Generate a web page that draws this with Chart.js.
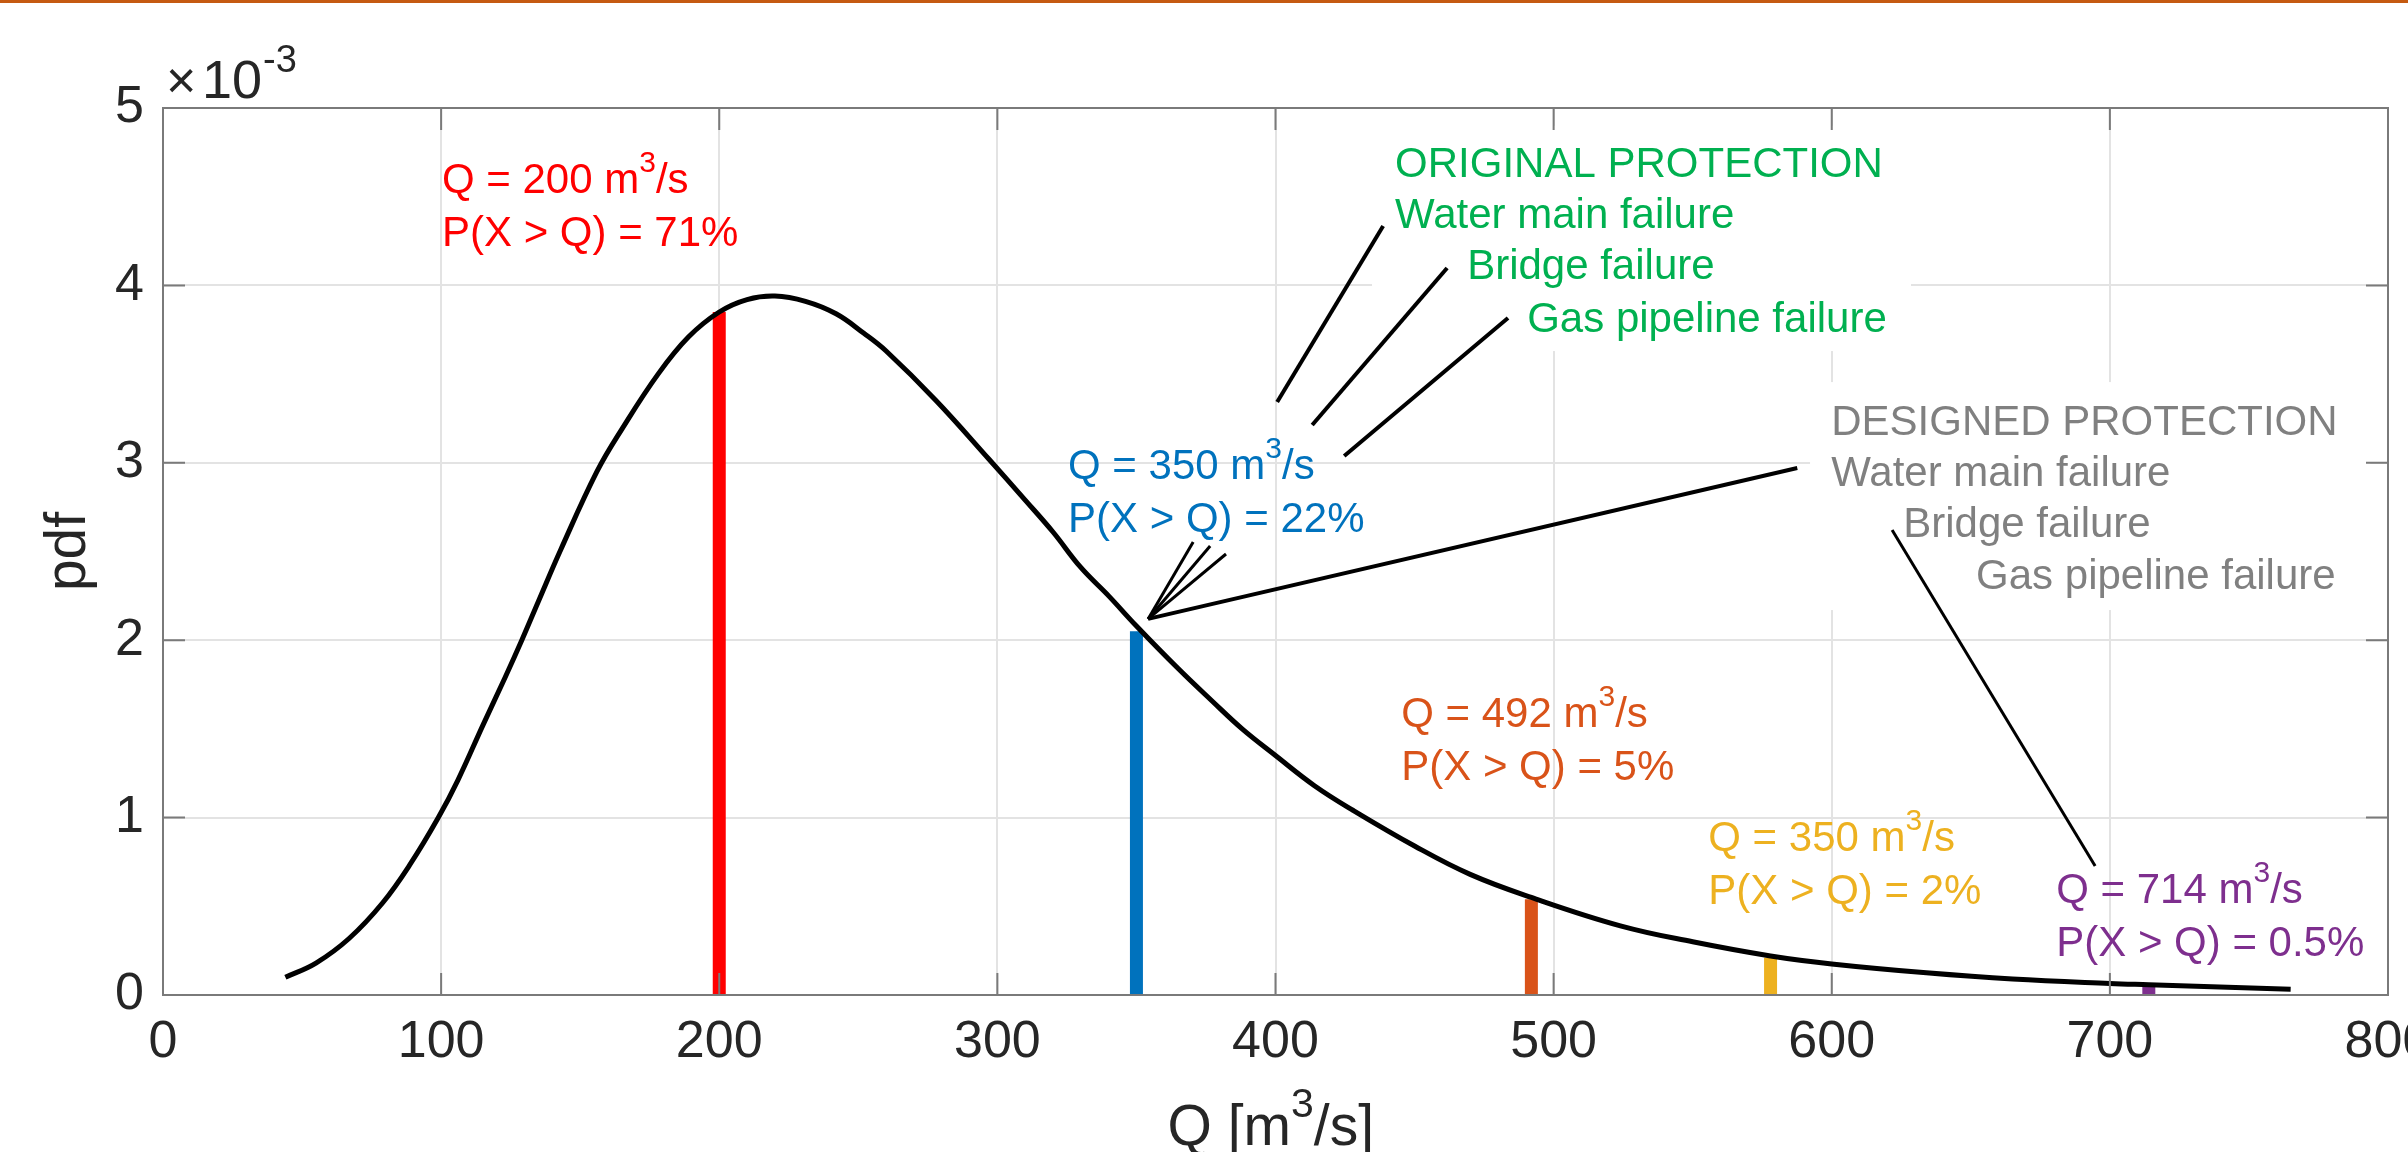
<!DOCTYPE html>
<html>
<head>
<meta charset="utf-8">
<script src="https://cdn.jsdelivr.net/npm/chart.js@4.4.1/dist/chart.umd.min.js"></script>
<style>
  html, body { margin: 0; padding: 0; background: #fff; }
  #wrap { width: 2408px; height: 1152px; }
</style>
</head>
<body>
<div id="wrap"><canvas id="pdfChart" width="2408" height="1152"></canvas></div>
<script>
// discharge Q [m3/s] and pdf (pdf in units of 10^-3, like the axis)
var qValues = [44, 55, 67, 79, 89, 99, 106, 115, 123, 129, 135, 143, 156, 165, 178, 189, 200, 210, 220, 231,
  242, 252, 260, 278, 297, 310, 320, 330, 340, 350, 365, 377, 388, 400, 414, 428, 450, 470, 492, 524,
  550, 578, 600, 634, 665, 700, 714, 765];
var pdfValues = [0.10, 0.18, 0.32, 0.52, 0.74, 1.00, 1.21, 1.52, 1.79, 2.00, 2.22, 2.51, 2.95, 3.19, 3.50, 3.71, 3.85, 3.92, 3.94, 3.91,
  3.84, 3.73, 3.63, 3.35, 3.02, 2.79, 2.61, 2.41, 2.25, 2.08, 1.84, 1.66, 1.50, 1.35, 1.18, 1.04, 0.84, 0.68, 0.55, 0.39,
  0.30, 0.22, 0.175, 0.125, 0.09, 0.065, 0.058, 0.033];

// the five marked discharges
var markerQ = [200, 350, 492, 578, 714];
var markerPdf = [3.85, 2.05, 0.54, 0.21, 0.06];
var markerLabelQ = ['200', '350', '492', '350', '714'];
var markerExceed = ['71%', '22%', '5%', '2%', '0.5%'];

var xTicks = [0, 100, 200, 300, 400, 500, 600, 700, 800];
var yTicks = [0, 1, 2, 3, 4, 5];

var originalLines = ['ORIGINAL PROTECTION', 'Water main failure', 'Bridge failure', 'Gas pipeline failure'];
var designedLines = ['DESIGNED PROTECTION', 'Water main failure', 'Bridge failure', 'Gas pipeline failure'];

// styling / placement (data coordinates)
var FONT = "'Liberation Sans', Arial, Helvetica, sans-serif";
var markerColors = ['#FF0000', '#0072BD', '#D95319', '#EDB120', '#7E2F8E'];
var markerTextPos = [[100.3, 4.52], [325.4, 2.91], [445.2, 1.51], [555.6, 0.81], [680.7, 0.52]];
var originalPos = [[443.0, 4.611], [443.0, 4.324], [468.9, 4.036], [490.5, 3.737]];
var designedPos = [[599.8, 3.157], [599.8, 2.869], [625.7, 2.582], [651.9, 2.289]];
var originalBox = [434.7, 4.90, 628.5, 3.63];
var designedBox = [592.2, 3.455, 793.6, 2.17];
// leader lines: q1, v1, q2, v2, width
var leaders = [
  [438.7, 4.335, 400.6, 3.343, 4],
  [461.7, 4.098, 413.2, 3.213, 4],
  [483.6, 3.816, 424.7, 3.038, 4],
  [587.6, 2.971, 354.2, 2.120, 4],
  [370.4, 2.554, 354.2, 2.120, 3],
  [376.5, 2.531, 354.2, 2.120, 3],
  [382.2, 2.486, 354.2, 2.120, 3],
  [621.7, 2.621, 694.7, 0.727, 3]
];

function drawRuns(ctx, x, y, runs, size, color) {
  ctx.fillStyle = color;
  ctx.textAlign = 'left';
  ctx.textBaseline = 'alphabetic';
  runs.forEach(function (r) {
    var fs = r.sup ? Math.round(size * 0.72) : size;
    ctx.font = fs + 'px ' + FONT;
    ctx.fillText(r.t, x, r.sup ? y - size * 0.5 : y);
    x += ctx.measureText(r.t).width;
  });
}

var matlabLook = {
  id: 'matlabLook',
  beforeDraw: function (chart) {
    var ctx = chart.ctx;
    ctx.save();
    ctx.fillStyle = '#fff';
    ctx.fillRect(0, 0, chart.width, chart.height);
    ctx.restore();
  },
  beforeDatasetsDraw: function (chart) {
    var ctx = chart.ctx, xs = chart.scales.x, ys = chart.scales.y;
    ctx.save();
    ctx.fillStyle = '#fff';
    [originalBox, designedBox].forEach(function (b) {
      var x1 = xs.getPixelForValue(b[0]), y1 = ys.getPixelForValue(b[1]);
      var x2 = xs.getPixelForValue(b[2]), y2 = ys.getPixelForValue(b[3]);
      ctx.fillRect(x1, y1, x2 - x1, y2 - y1);
    });
    ctx.restore();
  },
  afterDatasetsDraw: function (chart) {
    var ctx = chart.ctx, xs = chart.scales.x, ys = chart.scales.y, a = chart.chartArea;
    ctx.save();

    // box and inward ticks
    ctx.strokeStyle = '#7a7a7a';
    ctx.lineWidth = 2;
    ctx.strokeRect(a.left, a.top, a.right - a.left, a.bottom - a.top);
    ctx.beginPath();
    xTicks.forEach(function (t) {
      var px = xs.getPixelForValue(t);
      ctx.moveTo(px, a.bottom); ctx.lineTo(px, a.bottom - 22);
      ctx.moveTo(px, a.top); ctx.lineTo(px, a.top + 22);
    });
    yTicks.forEach(function (t) {
      var py = ys.getPixelForValue(t);
      ctx.moveTo(a.left, py); ctx.lineTo(a.left + 22, py);
      ctx.moveTo(a.right, py); ctx.lineTo(a.right - 22, py);
    });
    ctx.stroke();

    // leader lines
    ctx.strokeStyle = '#000';
    ctx.lineCap = 'butt';
    leaders.forEach(function (l) {
      ctx.lineWidth = l[4];
      ctx.beginPath();
      ctx.moveTo(xs.getPixelForValue(l[0]), ys.getPixelForValue(l[1]));
      ctx.lineTo(xs.getPixelForValue(l[2]), ys.getPixelForValue(l[3]));
      ctx.stroke();
    });

    // marker labels
    markerQ.forEach(function (q, i) {
      var px = xs.getPixelForValue(markerTextPos[i][0]);
      var py = ys.getPixelForValue(markerTextPos[i][1]);
      drawRuns(ctx, px, py, [{ t: 'Q = ' + markerLabelQ[i] + ' m' }, { t: '3', sup: true }, { t: '/s' }], 42, markerColors[i]);
      drawRuns(ctx, px, py + 53, [{ t: 'P(X > Q) = ' + markerExceed[i] }], 42, markerColors[i]);
    });

    originalLines.forEach(function (s, i) {
      drawRuns(ctx, xs.getPixelForValue(originalPos[i][0]), ys.getPixelForValue(originalPos[i][1]), [{ t: s }], 42, '#00B050');
    });
    designedLines.forEach(function (s, i) {
      drawRuns(ctx, xs.getPixelForValue(designedPos[i][0]), ys.getPixelForValue(designedPos[i][1]), [{ t: s }], 42, '#808080');
    });

    // exponent of the y axis
    ctx.fillStyle = '#262626';
    ctx.font = '52px ' + FONT;
    ctx.textBaseline = 'alphabetic';
    ctx.fillText('\u00d7', a.left + 3, a.top - 10);
    ctx.font = '54px ' + FONT;
    ctx.fillText('10', a.left + 39, a.top - 10);
    ctx.font = '38px ' + FONT;
    ctx.fillText('-3', a.left + 100, a.top - 36);

    // axis titles
    drawRuns(ctx, (a.left + a.right) / 2 - 108, chart.height - 7, [{ t: 'Q [m' }, { t: '3', sup: true }, { t: '/s]' }], 57, '#262626');
    ctx.translate(85, (a.top + a.bottom) / 2);
    ctx.rotate(-Math.PI / 2);
    ctx.textAlign = 'center';
    ctx.font = '57px ' + FONT;
    ctx.fillStyle = '#262626';
    ctx.fillText('pdf', 0, 0);
    ctx.restore();

    // brown rule along the top of the slide
    ctx.save();
    ctx.fillStyle = '#C55A11';
    ctx.fillRect(0, 0, chart.width, 3);
    ctx.restore();
  }
};

var datasets = [{
  label: 'pdf',
  data: qValues.map(function (q, i) { return { x: q, y: pdfValues[i] }; }),
  borderColor: '#000',
  borderWidth: 5,
  pointRadius: 0,
  tension: 0.4,
  order: 0
}];
markerQ.forEach(function (q, i) {
  datasets.push({
    label: 'Q' + q,
    data: [{ x: q, y: 0 }, { x: q, y: markerPdf[i] }],
    borderColor: markerColors[i],
    borderWidth: 13,
    borderCapStyle: 'butt',
    pointRadius: 0,
    order: 1
  });
});

var tickFont = { family: FONT, size: 52 };

new Chart(document.getElementById('pdfChart').getContext('2d'), {
  type: 'line',
  data: { datasets: datasets },
  options: {
    responsive: false,
    animation: false,
    devicePixelRatio: 1,
    layout: { padding: { top: 108, right: 20, left: 0, bottom: 0 } },
    plugins: { legend: { display: false }, tooltip: { enabled: false } },
    scales: {
      x: {
        type: 'linear',
        min: 0,
        max: 800,
        afterBuildTicks: function (s) { s.ticks = xTicks.map(function (v) { return { value: v }; }); },
        ticks: { autoSkip: false, maxRotation: 0, padding: 16, color: '#262626', font: tickFont },
        grid: { color: '#e3e3e3', lineWidth: 2, drawTicks: false },
        border: { display: false },
        afterFit: function (s) { s.height = 157; s.paddingLeft = 0; s.paddingRight = 0; }
      },
      y: {
        type: 'linear',
        min: 0,
        max: 5,
        afterBuildTicks: function (s) { s.ticks = yTicks.map(function (v) { return { value: v }; }); },
        ticks: { padding: 19, color: '#262626', font: tickFont },
        grid: { color: '#e3e3e3', lineWidth: 2, drawTicks: false },
        border: { display: false },
        afterFit: function (s) { s.width = 163; s.paddingTop = 0; s.paddingBottom = 0; }
      }
    }
  },
  plugins: [matlabLook]
});
</script>
</body>
</html>
